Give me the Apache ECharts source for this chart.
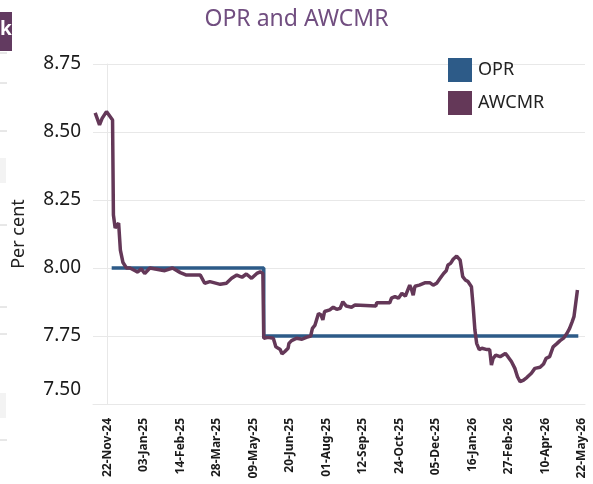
<!DOCTYPE html>
<html>
<head>
<meta charset="utf-8">
<script src="https://cdn.jsdelivr.net/npm/echarts@6/dist/echarts.min.js"></script>
<style>
  html, body { margin: 0; padding: 0; background: #fff; }
  #chart { width: 593px; height: 484px; }
</style>
</head>
<body>
<div id="chart"></div>
<script>
// x tick labels (every 42 days)
var tickLabels = ['22-Nov-24', '03-Jan-25', '14-Feb-25', '28-Mar-25', '09-May-25', '20-Jun-25',
  '01-Aug-25', '12-Sep-25', '24-Oct-25', '05-Dec-25', '16-Jan-26', '27-Feb-26', '10-Apr-26', '22-May-26']

// days counted from 22-Nov-24
var oprDay = [5, 180, 180, 542]
var oprValue = [8.0, 8.0, 7.75, 7.75]

var awcmrDay = [
  -14, -9, -6, -1, 6, 7, 9, 13, 15, 18,
  22, 26, 32, 35, 39, 43, 49, 66, 75, 84,
  91, 107, 112, 118, 130, 137, 143, 149, 155, 160,
  166, 172, 176, 179, 180, 185, 191, 194, 199, 201,
  204, 208, 209, 212, 218, 224, 229, 234, 236, 239,
  241, 243, 246, 248, 250, 256, 260, 264, 268, 271,
  275, 281, 285, 309, 310, 325, 327, 331, 335, 339,
  343, 345, 348, 350, 352, 354, 359, 366, 371, 375,
  379, 383, 387, 390, 392, 395, 398, 402, 406, 409,
  412, 415, 419, 421, 423, 425, 428, 431, 437, 440,
  442, 444, 447, 452, 458, 461, 465, 469, 472, 475,
  479, 483, 488, 492, 498, 502, 505, 509, 513, 517,
  521, 525, 529, 532, 535, 537, 539, 541
]
var awcmrValue = [
  8.57, 8.526, 8.55, 8.575, 8.544, 8.195, 8.147, 8.165, 8.066, 8.02,
  8.0, 8.0, 7.99, 7.985, 7.997, 7.98, 8.0, 7.99, 8.0, 7.983,
  7.974, 7.974, 7.944, 7.95, 7.94, 7.944, 7.962, 7.974, 7.966, 7.978,
  7.962, 7.98, 7.986, 7.98, 7.742, 7.745, 7.742, 7.71, 7.70, 7.684,
  7.692, 7.705, 7.723, 7.733, 7.742, 7.738, 7.745, 7.75, 7.778, 7.79,
  7.787, 7.833, 7.827, 7.809, 7.84, 7.846, 7.856, 7.848, 7.852, 7.876,
  7.86, 7.856, 7.864, 7.86, 7.872, 7.872, 7.889, 7.895, 7.889, 7.907,
  7.897, 7.913, 7.937, 7.922, 7.90, 7.933, 7.937, 7.946, 7.946, 7.937,
  7.944, 7.962, 7.98, 7.99, 8.011, 8.017, 8.032, 8.044, 8.029, 7.968,
  7.956, 7.95, 7.931, 7.858, 7.772, 7.723, 7.70, 7.705, 7.70, 7.70,
  7.643, 7.668, 7.68, 7.674, 7.686, 7.674, 7.656, 7.631, 7.60, 7.582,
  7.588, 7.598, 7.613, 7.631, 7.635, 7.647, 7.668, 7.674, 7.71, 7.721,
  7.733, 7.742, 7.76, 7.778, 7.803, 7.821, 7.87, 7.919
]

var months = ['Jan', 'Feb', 'Mar', 'Apr', 'May', 'Jun', 'Jul', 'Aug', 'Sep', 'Oct', 'Nov', 'Dec']
var baseDate = Date.UTC(2024, 10, 22)
function labelToDay(s) {
  var p = s.split('-')
  var t = Date.UTC(2000 + Number(p[2]), months.indexOf(p[1]), Number(p[0]))
  return Math.round((t - baseDate) / 86400000)
}
var tickDays = tickLabels.map(labelToDay)

function pairs(xs, ys) {
  return xs.map(function (x, i) { return [x, ys[i]] })
}

var purple = '#643858'
var blue = '#2d5b88'
var gridColor = '#e8e8e8'

var chart = echarts.init(document.getElementById('chart'))
var option = {
  animation: false,
  textStyle: { fontFamily: 'Noto Sans' },
  title: {
    text: 'OPR and AWCMR',
    left: 'center',
    top: 3,
    textStyle: { fontSize: 23, fontWeight: 'normal', color: '#714e80', fontFamily: 'Noto Sans' }
  },
  legend: {
    orient: 'vertical',
    left: 443,
    top: 53,
    itemWidth: 24,
    itemHeight: 24,
    itemGap: 9,
    icon: 'rect',
    textStyle: { fontSize: 18, color: '#222', padding: [0, 0, 0, 1] },
    data: ['OPR', 'AWCMR']
  },
  grid: { left: 93, right: 8, top: 64, bottom: 80 },
  xAxis: {
    type: 'value',
    min: -16.5,
    max: 549.7,
    splitLine: { show: false },
    axisTick: { show: false },
    axisLine: { show: true, lineStyle: { color: gridColor } },
    axisLabel: {
      customValues: tickDays,
      rotate: 90,
      margin: 14,
      fontSize: 12,
      fontWeight: 'bold',
      color: '#1a1a1a',
      formatter: function (v) {
        var i = tickDays.indexOf(Math.round(v))
        return i >= 0 ? tickLabels[i] : ''
      }
    }
  },
  yAxis: {
    type: 'value',
    min: 7.5,
    max: 8.75,
    interval: 0.25,
    name: 'Per cent',
    nameLocation: 'middle',
    nameRotate: 90,
    nameGap: 65,
    nameTextStyle: { fontSize: 18, color: '#222' },
    axisLine: { show: true, lineStyle: { color: gridColor } },
    axisTick: { show: false },
    splitLine: { lineStyle: { color: gridColor, width: 1 } },
    axisLabel: {
      fontSize: 19,
      color: '#1a1a1a',
      margin: 12,
      formatter: function (v) {
        var s = v.toFixed(2)
        return v <= 7.5 ? '{lo|' + s + '}' : s
      },
      rich: {
        lo: { fontSize: 19, color: '#1a1a1a', padding: [0, 0, 28, 0] }
      }
    }
  },
  series: [
    {
      name: 'OPR',
      type: 'line',
      showSymbol: false,
      lineStyle: { color: blue, width: 3.5 },
      itemStyle: { color: blue },
      data: pairs(oprDay, oprValue)
    },
    {
      name: 'AWCMR',
      type: 'line',
      showSymbol: false,
      lineStyle: { color: purple, width: 3.5 },
      itemStyle: { color: purple },
      data: pairs(awcmrDay, awcmrValue)
    }
  ],
  graphic: [
    { type: 'rect', shape: { x: 0, y: 12, width: 12, height: 39 }, style: { fill: '#623a60' } },
    { type: 'text', x: 0, y: 20, style: { text: 'k', fill: '#fff', font: 'bold 19px Noto Sans' } },
    { type: 'rect', shape: { x: 0, y: 158, width: 6, height: 25 }, style: { fill: '#f3f3f3' } },
    { type: 'rect', shape: { x: 0, y: 393, width: 6, height: 25 }, style: { fill: '#f3f3f3' } },
    { type: 'line', shape: { x1: 0, y1: 53, x2: 7, y2: 53 }, style: { stroke: '#d0d0d0' } },
    { type: 'line', shape: { x1: 0, y1: 83, x2: 7, y2: 83 }, style: { stroke: '#d0d0d0' } },
    { type: 'line', shape: { x1: 0, y1: 131, x2: 7, y2: 131 }, style: { stroke: '#d0d0d0' } },
    { type: 'line', shape: { x1: 0, y1: 225, x2: 7, y2: 225 }, style: { stroke: '#d0d0d0' } },
    { type: 'line', shape: { x1: 0, y1: 307, x2: 7, y2: 307 }, style: { stroke: '#d0d0d0' } },
    { type: 'line', shape: { x1: 0, y1: 334, x2: 7, y2: 334 }, style: { stroke: '#d0d0d0' } },
    { type: 'line', shape: { x1: 0, y1: 440, x2: 7, y2: 440 }, style: { stroke: '#d0d0d0' } }
  ]
}
chart.setOption(option)
</script>
</body>
</html>
